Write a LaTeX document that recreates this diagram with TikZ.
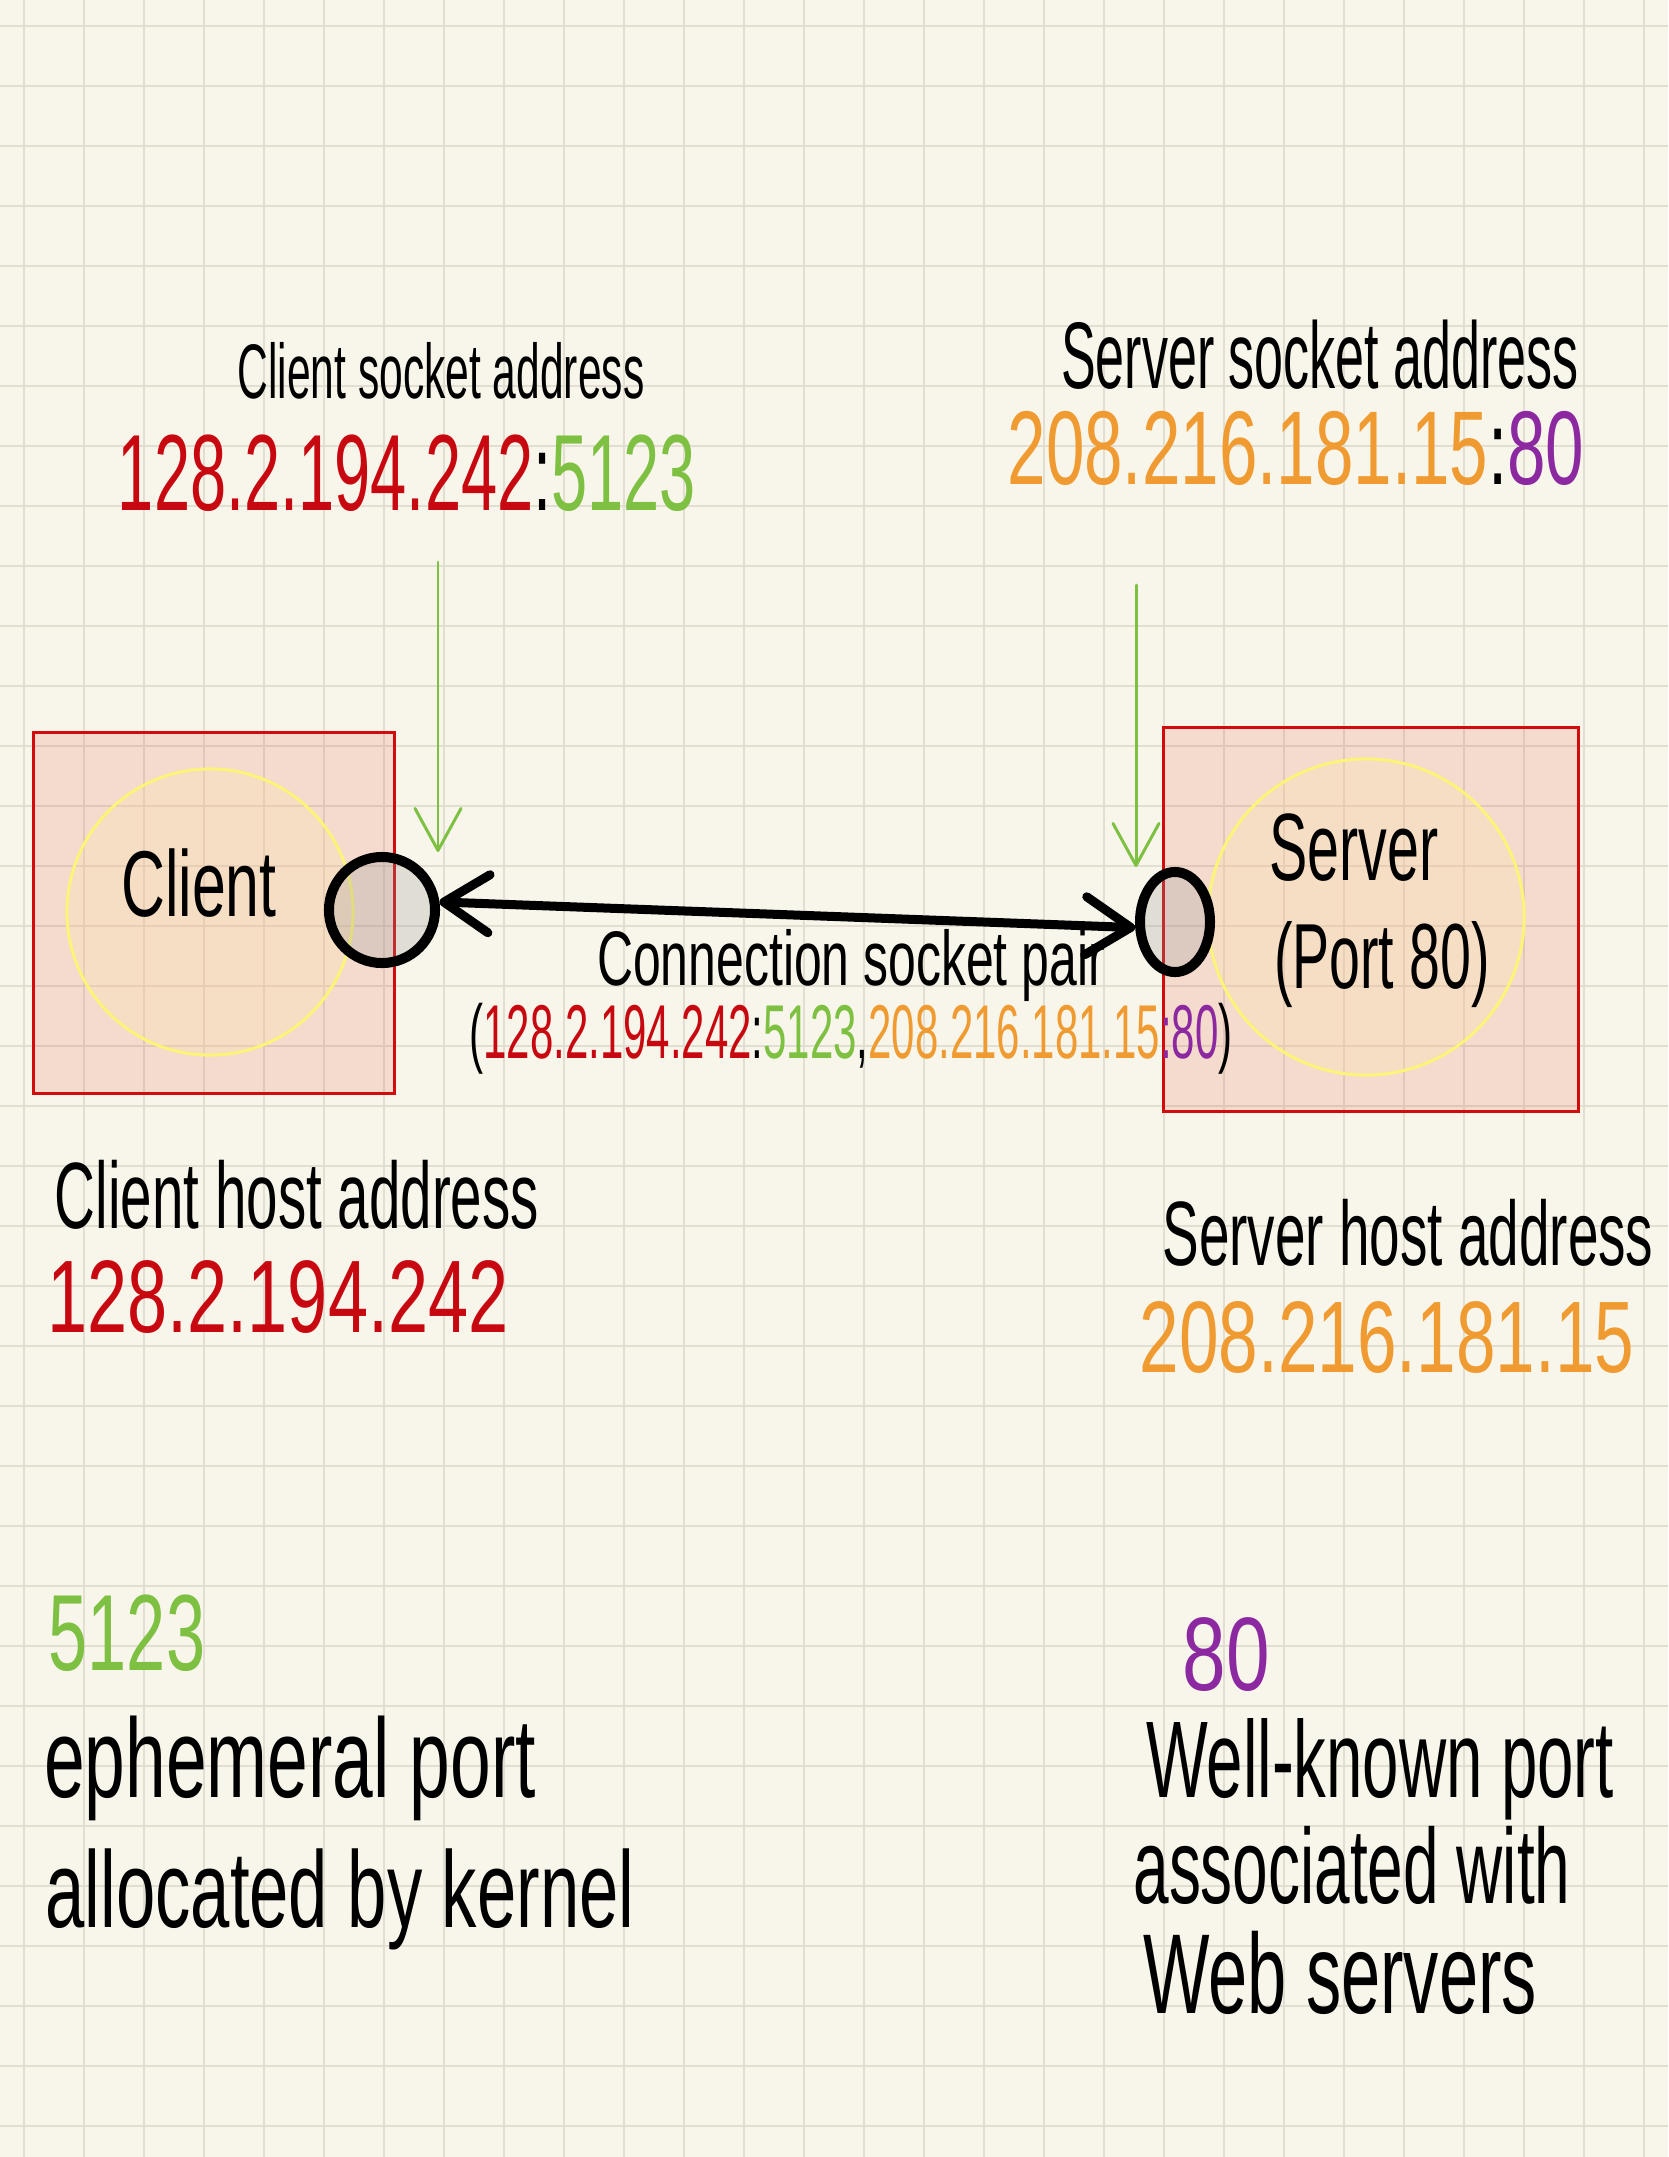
\documentclass[tikz,border=0pt]{standalone}
\usepackage{fontspec}
\usetikzlibrary{arrows.meta,shapes.geometric}
\newcommand\hf[2]{\fontspec[FakeStretch=#1]{Liberation Sans}\fontsize{#2}{#2}\selectfont}
\definecolor{paper}{RGB}{248,246,234}
\definecolor{gridc}{RGB}{226,223,210}
\definecolor{hred}{RGB}{200,8,16}
\definecolor{hgreen}{RGB}{125,192,66}
\definecolor{horange}{RGB}{240,155,50}
\definecolor{hpurple}{RGB}{140,40,160}
\definecolor{boxred}{RGB}{210,12,12}
\definecolor{boxfill}{RGB}{220,60,40}
\definecolor{ylw}{RGB}{250,244,120}
\definecolor{ylwfill}{RGB}{255,235,160}
\begin{document}
\begin{tikzpicture}[x=0.01cm,y=-0.01cm,
  gridline/.style={draw=gridc,line width=0.57pt},
  hostbox/.style={rectangle,draw=boxred,line width=0.85pt,fill=boxfill,fill opacity=0.14,inner sep=0pt},
  hostcircle/.style={circle,draw=ylw,line width=0.85pt,fill=ylwfill,fill opacity=0.2,inner sep=0pt},
  sockring/.style={circle,draw=black,line width=2.85pt,fill=black!41,fill opacity=0.25,inner sep=0pt},
  sockoval/.style={ellipse,draw=black,line width=2.85pt,fill=black!41,fill opacity=0.25,inner sep=0pt},
  txt/.style={inner sep=0pt,anchor=base,text=black},
  conn/.style={draw=black,line width=2.56pt,line cap=round,
    {Straight Barb[length=4.5mm,width=5.8mm,round]}-{Straight Barb[length=4.5mm,width=5.8mm,round]}},
  pointer/.style={draw=hgreen,line width=0.85pt,line cap=round,
    -{Straight Barb[length=4.2mm,width=4.6mm,round]}}
]
\useasboundingbox (0,0) rectangle (1668,2157);
\fill[paper] (0,0) rectangle (1668,2157);
\foreach \i in {0,...,27} \draw[gridline] ({24+60*\i},0) -- ({24+60*\i},2157);
\foreach \j in {0,...,35} \draw[gridline] (0,{26+60*\j}) -- (1668,{26+60*\j});

% hosts
\node[hostbox,minimum width=3.60cm,minimum height=3.60cm] (clientbox) at (214,913) {};
\node[hostbox,minimum width=4.14cm,minimum height=3.83cm] (serverbox) at (1371,919.5) {};
\node[hostcircle,minimum size=2.86cm] (clientcirc) at (210,912) {};
\node[hostcircle,minimum size=3.16cm] (servercirc) at (1366,917) {};

\node[txt,font=\hf{0.65}{26.6}] (cname) at (199,916) {Client};
\node[txt,font=\hf{0.6}{27.2}] (sname) at (1354,880) {Server};
\node[txt,font=\hf{0.6}{26.3}] (sport) at (1382,988) {(Port 80)};

% sockets
\node[sockring,minimum size=1.06cm] (csock) at (382,910) {};
\node[sockoval,minimum width=0.70cm,minimum height=1.00cm] (ssock) at (1175,922) {};

\draw[conn] (csock.8) -- (ssock.188);

% socket address pointers
\coordinate (cstart) at (438,562);
\coordinate (sstart) at (1136,585);
\draw[pointer] (cstart) -- (cstart |- csock.north);
\draw[pointer] (sstart) -- (sstart |- ssock.north);

% top labels
\node[txt,font=\hf{0.55}{22}] (csaddr) at (441,398) {Client socket address};
\node[txt,font=\hf{0.6}{30.8}] (csport) at (407,510) {{\color{hred}128.2.194.242}:{\color{hgreen}5123}};
\node[txt,font=\hf{0.55}{26.9}] (ssaddr) at (1320,388) {Server socket address};
\node[txt,font=\hf{0.66}{29.8}] (ssport) at (1296,484) {{\color{horange}208.216.181.15}:{\color{hpurple}80}};

% connection
\node[txt,font=\hf{0.645}{22}] (pairlbl) at (851,985) {Connection socket pair};
\node[txt,font=\hf{0.55}{21.7}] (pairval) at (851,1058) {({\color{hred}128.2.194.242}:{\color{hgreen}5123},{\color{horange}208.216.181.15}{\color{hpurple}:80})};

% host addresses
\node[txt,font=\hf{0.6}{26.8}] (chost) at (297,1228) {Client host address};
\node[txt,font=\hf{0.7}{29.3},text=hred] (chostip) at (278,1332) {128.2.194.242};
\node[txt,font=\hf{0.6}{26}] (shost) at (1408,1265) {Server host address};
\node[txt,font=\hf{0.7}{28.9},text=horange] (shostip) at (1387,1372) {208.216.181.15};

% ports
\node[txt,font=\hf{0.65}{30.8},text=hgreen] (eport) at (127,1670) {5123};
\node[txt,font=\hf{0.65}{32}] (eplbl1) at (290,1797) {ephemeral port};
\node[txt,font=\hf{0.65}{30.9}] (eplbl2) at (340,1927) {allocated by kernel};
\node[txt,font=\hf{0.75}{29.7},text=hpurple] (wport) at (1226,1690) {80};
\node[txt,font=\hf{0.6}{31}] (wk1) at (1380,1797) {Well-known port};
\node[txt,font=\hf{0.6}{30.3}] (wk2) at (1352,1903) {associated with};
\node[txt,font=\hf{0.62}{32.3}] (wk3) at (1340,2013) {Web servers};
\end{tikzpicture}
\end{document}
